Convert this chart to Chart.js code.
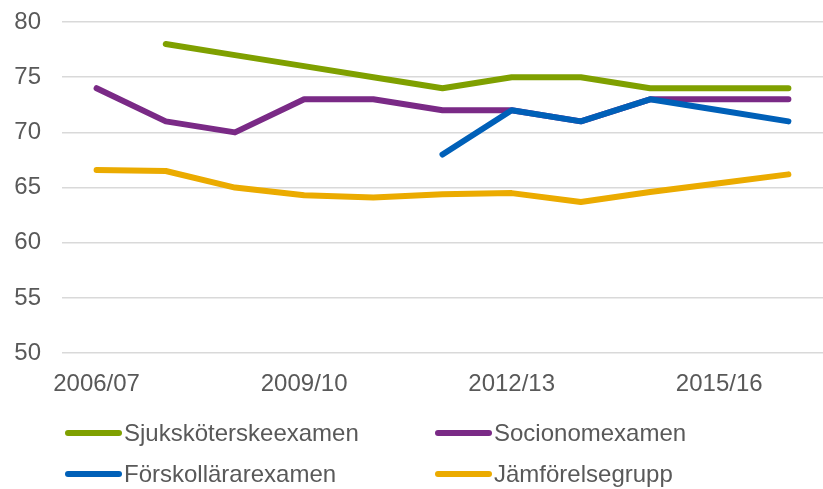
<!DOCTYPE html>
<html>
<head>
<meta charset="utf-8">
<script src="https://cdn.jsdelivr.net/npm/chart.js@4/dist/chart.umd.min.js"></script>
<style>
html,body{margin:0;padding:0;background:#fff;}
#wrap{width:823px;height:489px;position:relative;}
</style>
</head>
<body>
<div id="wrap"><canvas id="c" width="823" height="489"></canvas></div>
<script>
const categories = ["2006/07","2007/08","2008/09","2009/10","2010/11","2011/12","2012/13","2013/14","2014/15","2015/16","2016/17"];
const sjukskoterske = [null, 78, 77, 76, 75, 74, 75, 75, 74, 74, 74];
const socionom = [74, 71, 70, 73, 73, 72, 72, 71, 73, 73, 73];
const forskollarare = [null, null, null, null, null, 68, 72, 71, 73, 72, 71];
const jamforelse = [66.6, 66.5, 65.0, 64.3, 64.1, 64.4, 64.5, 63.7, 64.6, 65.4, 66.2];
const yTicks = [50, 55, 60, 65, 70, 75, 80];
const seriesNames = ["Sjuksköterskeexamen","Socionomexamen","Förskollärarexamen","Jämförelsegrupp"];
const seriesColors = ["#7fa000","#7a2a86","#0060b8","#ebab00"];

const FONT = "Liberation Sans, Arial, sans-serif";
const TXT = "#595959";

function ds(i, data, order){
  return {label: seriesNames[i], data: data, borderColor: seriesColors[i], backgroundColor: seriesColors[i],
    borderWidth: 6, pointRadius: 0, pointHoverRadius: 0, tension: 0, spanGaps: false,
    borderCapStyle: 'round', borderJoinStyle: 'round', fill: false, order: order};
}

const legendPlugin = {
  id: 'customLegend',
  afterDraw(chart){
    const ctx = chart.ctx;
    const pos = [[65,433],[435,433],[65,474],[435,474]];
    ctx.save();
    ctx.font = "24px " + FONT;
    ctx.textBaseline = "middle";
    ctx.fillStyle = TXT;
    chart.data.datasets.forEach((d, i) => {
      const [x, y] = pos[i];
      ctx.strokeStyle = d.borderColor;
      ctx.lineWidth = 6;
      ctx.lineCap = 'round';
      ctx.beginPath();
      ctx.moveTo(x + 3, y);
      ctx.lineTo(x + 54, y);
      ctx.stroke();
      ctx.fillText(d.label, x + 59, y + 1);
    });
    ctx.restore();
  }
};

new Chart(document.getElementById('c'), {
  type: 'line',
  data: {
    labels: categories,
    datasets: [ds(0, sjukskoterske, 2), ds(1, socionom, 1), ds(2, forskollarare, 0), ds(3, jamforelse, 3)]
  },
  options: {
    responsive: false,
    animation: false,
    devicePixelRatio: 1,
    layout: {padding: {top: 22, right: 0, left: 0, bottom: 73}},
    plugins: {legend: {display: false}, tooltip: {enabled: false}},
    scales: {
      x: {
        offset: true,
        grid: {display: false, drawTicks: false},
        border: {display: false},
        ticks: {
          autoSkip: false, maxRotation: 0, minRotation: 0, padding: 17,
          color: TXT, font: {family: FONT, size: 24},
          callback: function(v, i){ return i % 3 === 0 ? categories[i] : ''; }
        }
      },
      y: {
        min: 50, max: 80,
        afterFit(scale){ scale.width = 62; scale.paddingTop = 0; scale.paddingBottom = 0; },
        afterBuildTicks(scale){ scale.ticks = yTicks.map(v => ({value: v})); },
        grid: {color: '#d9d9d9', lineWidth: 1.5, drawTicks: false},
        border: {display: false},
        ticks: {padding: 21, color: TXT, font: {family: FONT, size: 24}}
      }
    }
  },
  plugins: [legendPlugin]
});
</script>
</body>
</html>
